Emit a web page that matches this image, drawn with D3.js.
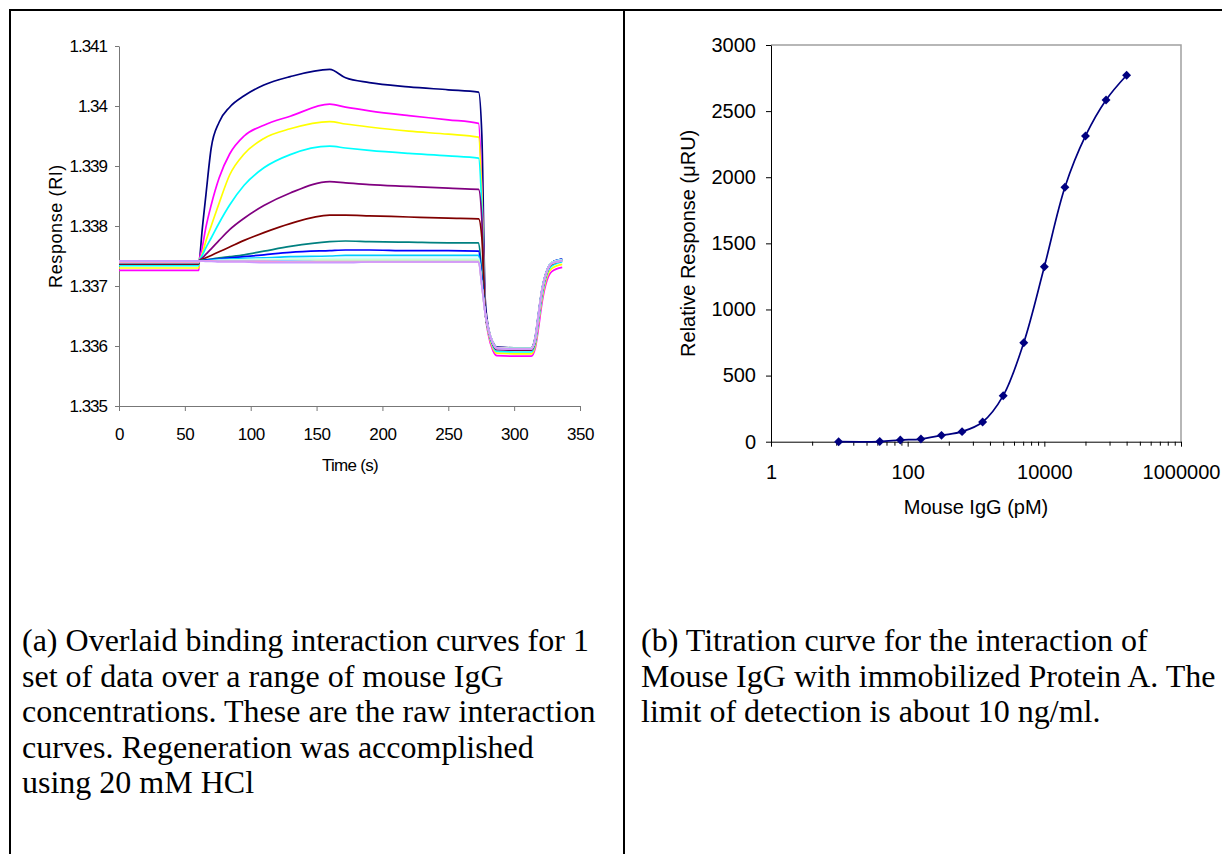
<!DOCTYPE html>
<html>
<head>
<meta charset="utf-8">
<script src="https://cdn.jsdelivr.net/npm/d3@7"></script>
<style>
  html, body { margin: 0; padding: 0; background: #fff; }
  svg { display: block; }
</style>
</head>
<body>
<script>
// ---- (a) binding curves: time points shared by every series ----
const times = [0, 60.5, 61, 63, 66, 70, 76, 84, 95, 110, 130, 160, 172, 190, 220, 250, 273,
  275.5, 278, 280.5, 284, 287, 300, 313, 316, 318.5, 321, 325, 328.5, 336.5];

const navy = [1.33737, 1.33737, 1.33742, 1.33790, 1.33852, 1.33930, 1.33973, 1.33998, 1.34017, 1.34035, 1.34049, 1.34061, 1.34047, 1.34039, 1.34032, 1.34027, 1.34023,
  1.33950, 1.33680, 1.33630, 1.33606, 1.33598, 1.33597, 1.33597, 1.33615, 1.33655, 1.33693, 1.33727, 1.33739, 1.33745];
const magenta = [1.33726, 1.33726, 1.33742, 1.33762, 1.33798, 1.33835, 1.33880, 1.33920, 1.33950, 1.33968, 1.33983, 1.34003, 1.33998, 1.33992, 1.33984, 1.33977, 1.33971,
  1.33860, 1.33660, 1.33618, 1.33592, 1.33584, 1.33583, 1.33583, 1.33596, 1.33630, 1.33670, 1.33710, 1.33724, 1.33731];
const yellow = [1.33730, 1.33730, 1.33742, 1.33752, 1.33775, 1.33800, 1.33838, 1.33885, 1.33920, 1.33946, 1.33962, 1.33974, 1.33970, 1.33965, 1.33958, 1.33953, 1.33948,
  1.33850, 1.33658, 1.33622, 1.33596, 1.33588, 1.33587, 1.33587, 1.33600, 1.33638, 1.33676, 1.33716, 1.33729, 1.33736];
const cyan = [1.33734, 1.33734, 1.33742, 1.33750, 1.33764, 1.33780, 1.33805, 1.33835, 1.33868, 1.33897, 1.33919, 1.33933, 1.33930, 1.33926, 1.33921, 1.33917, 1.33913,
  1.33830, 1.33657, 1.33624, 1.33599, 1.33591, 1.33590, 1.33590, 1.33604, 1.33642, 1.33681, 1.33720, 1.33733, 1.33740];
const purple = [1.33737, 1.33737, 1.33742, 1.33746, 1.33753, 1.33762, 1.33776, 1.33794, 1.33813, 1.33834, 1.33855, 1.33874, 1.33872, 1.33869, 1.33866, 1.33863, 1.33861,
  1.33810, 1.33656, 1.33626, 1.33602, 1.33594, 1.33593, 1.33593, 1.33608, 1.33648, 1.33687, 1.33723, 1.33736, 1.33742];
const maroon = [1.33737, 1.33737, 1.33742, 1.33744, 1.33747, 1.33751, 1.33757, 1.33765, 1.33776, 1.33789, 1.33804, 1.33818, 1.33818, 1.33817, 1.33815, 1.33813, 1.33812,
  1.33780, 1.33655, 1.33627, 1.33603, 1.33595, 1.33594, 1.33594, 1.33610, 1.33650, 1.33689, 1.33724, 1.33737, 1.33743];
const teal = [1.33738, 1.33738, 1.33742, 1.33743, 1.33744, 1.33745, 1.33747, 1.33749, 1.33752, 1.33758, 1.33766, 1.33774, 1.33775, 1.33774, 1.33773, 1.33772, 1.33772,
  1.33720, 1.33655, 1.33627, 1.33604, 1.33596, 1.33595, 1.33595, 1.33611, 1.33651, 1.33690, 1.33725, 1.33738, 1.33744];
const blue = [1.33740, 1.33740, 1.33742, 1.33742, 1.33743, 1.33744, 1.33745, 1.33747, 1.33749, 1.33752, 1.33756, 1.33759, 1.33760, 1.33760, 1.33759, 1.33759, 1.33758,
  1.33710, 1.33655, 1.33628, 1.33604, 1.33596, 1.33595, 1.33595, 1.33612, 1.33652, 1.33691, 1.33726, 1.33739, 1.33745];
const skyBlue = [1.33741, 1.33741, 1.33742, 1.33742, 1.33742, 1.33743, 1.33744, 1.33745, 1.33746, 1.33747, 1.33749, 1.33750, 1.33751, 1.33751, 1.33751, 1.33751, 1.33751,
  1.33705, 1.33655, 1.33628, 1.33605, 1.33597, 1.33596, 1.33596, 1.33612, 1.33652, 1.33691, 1.33726, 1.33739, 1.33744];
const paleCyan = [1.33742, 1.33742, 1.33742, 1.33742, 1.33742, 1.33742, 1.33743, 1.33743, 1.33744, 1.33745, 1.33745, 1.33746, 1.33746, 1.33746, 1.33746, 1.33746, 1.33746,
  1.33700, 1.33655, 1.33628, 1.33605, 1.33597, 1.33596, 1.33596, 1.33612, 1.33652, 1.33691, 1.33726, 1.33739, 1.33744];
const paleGreen = [1.33741, 1.33741, 1.33742, 1.33742, 1.33742, 1.33742, 1.33742, 1.33743, 1.33743, 1.33743, 1.33744, 1.33744, 1.33744, 1.33744, 1.33744, 1.33744, 1.33744,
  1.33700, 1.33655, 1.33628, 1.33605, 1.33597, 1.33596, 1.33596, 1.33612, 1.33652, 1.33691, 1.33726, 1.33739, 1.33743];
const paleYellow = [1.33740, 1.33740, 1.33742, 1.33742, 1.33742, 1.33742, 1.33742, 1.33742, 1.33742, 1.33742, 1.33742, 1.33742, 1.33742, 1.33742, 1.33742, 1.33742, 1.33742,
  1.33700, 1.33655, 1.33627, 1.33604, 1.33596, 1.33595, 1.33595, 1.33610, 1.33650, 1.33689, 1.33724, 1.33737, 1.33742];
const paleBlue = [1.33741, 1.33741, 1.33742, 1.33742, 1.33742, 1.33742, 1.33742, 1.33742, 1.33742, 1.33742, 1.33742, 1.33741, 1.33741, 1.33741, 1.33741, 1.33741, 1.33741,
  1.33700, 1.33655, 1.33627, 1.33604, 1.33596, 1.33595, 1.33595, 1.33611, 1.33651, 1.33690, 1.33725, 1.33738, 1.33743];
const pink = [1.33739, 1.33739, 1.33742, 1.33742, 1.33742, 1.33742, 1.33741, 1.33741, 1.33741, 1.33741, 1.33740, 1.33740, 1.33740, 1.33740, 1.33740, 1.33740, 1.33740,
  1.33700, 1.33655, 1.33627, 1.33604, 1.33596, 1.33595, 1.33595, 1.33611, 1.33651, 1.33690, 1.33725, 1.33738, 1.33742];
const lavender = [1.33742, 1.33742, 1.33742, 1.33742, 1.33741, 1.33741, 1.33740, 1.33740, 1.33740, 1.33739, 1.33739, 1.33739, 1.33739, 1.33740, 1.33740, 1.33740, 1.33740,
  1.33700, 1.33655, 1.33627, 1.33604, 1.33596, 1.33595, 1.33595, 1.33611, 1.33651, 1.33690, 1.33725, 1.33738, 1.33742];

const seriesA = [navy, magenta, yellow, cyan, purple, maroon, teal, blue, skyBlue, paleCyan, paleGreen, paleYellow, paleBlue, pink, lavender];
const colorsA = ["#000080", "#ff00ff", "#ffff00", "#00ffff", "#800080", "#800000", "#008080", "#0000ff",
  "#00ccff", "#ccffff", "#ccffcc", "#ffff99", "#99ccff", "#ff99cc", "#cc99ff"];

const timeTicks = [0, 50, 100, 150, 200, 250, 300, 350];
const riTicks = [1.335, 1.336, 1.337, 1.338, 1.339, 1.340, 1.341];
const riLabels = ["1.335", "1.336", "1.337", "1.338", "1.339", "1.34", "1.341"];

// ---- (b) titration curve ----
const concPM = [9.77, 39.06, 78.13, 156.25, 312.5, 625, 1250, 2500, 5000, 10000, 20000, 40000, 80000, 160000];
const responseURU = [0, 1, 13, 20, 48, 76, 149, 348, 749, 1323, 1924, 2312, 2584, 2771];
const concMajor = [1, 100, 10000, 1000000];
const concMinor = [4, 9, 16, 25, 36, 49, 64, 81, 400, 900, 1600, 2500, 3600, 4900, 6400, 8100,
  40000, 90000, 160000, 250000, 360000, 490000, 640000, 810000];
const respTicks = [0, 500, 1000, 1500, 2000, 2500, 3000];

const captionA = ["(a) Overlaid binding interaction curves for 1", "set of data over a range of mouse IgG",
  "concentrations. These are the raw interaction", "curves. Regeneration was accomplished", "using 20 mM HCl"];
const captionB = ["(b) Titration curve for the interaction of", "Mouse IgG with immobilized Protein A. The",
  "limit of detection is about 10 ng/ml."];

const svg = d3.select("body").append("svg")
  .attr("width", 1222)
  .attr("height", 854)
  .style("font-family", "'Liberation Sans', Arial, sans-serif");

svg.append("rect").attr("width", 1222).attr("height", 854).attr("fill", "#fff");

// table borders
svg.append("line").attr("x1", 9).attr("x2", 1222).attr("y1", 10).attr("y2", 10).attr("stroke", "#000").attr("stroke-width", 2);
svg.append("line").attr("x1", 10).attr("x2", 10).attr("y1", 9).attr("y2", 854).attr("stroke", "#000").attr("stroke-width", 2);
svg.append("line").attr("x1", 624).attr("x2", 624).attr("y1", 9).attr("y2", 854).attr("stroke", "#000").attr("stroke-width", 2);

// ===== chart (a) =====
const xA = d3.scaleLinear().domain([0, 350]).range([119, 580]);
const yA = d3.scaleLinear().domain([1.335, 1.341]).range([406, 46]);

const axisColor = "#777";

const gxA = svg.append("g").attr("transform", "translate(0,406)")
  .call(d3.axisBottom(xA).tickValues(timeTicks).tickSize(5).tickSizeOuter(0).tickPadding(17));
gxA.select(".domain").attr("stroke", axisColor);
gxA.selectAll(".tick line").attr("stroke", axisColor);
gxA.selectAll("text").attr("fill", "#000").style("font-size", "17px").style("letter-spacing", "-0.4px");

const gyA = svg.append("g").attr("transform", "translate(119,0)")
  .call(d3.axisLeft(yA).tickValues(riTicks).tickFormat((d, i) => riLabels[i]).tickSize(4).tickSizeOuter(0).tickPadding(8));
gyA.select(".domain").attr("stroke", axisColor);
gyA.selectAll(".tick line").attr("stroke", axisColor);
gyA.selectAll("text").attr("fill", "#000").style("font-size", "17px").style("letter-spacing", "-1px");

svg.append("text")
  .attr("x", 350).attr("y", 471)
  .attr("text-anchor", "middle")
  .style("font-size", "17px").style("letter-spacing", "-0.7px")
  .text("Time (s)");

svg.append("text")
  .attr("transform", "translate(62,226) rotate(-90)")
  .attr("text-anchor", "middle")
  .style("font-size", "18px").style("letter-spacing", "0.6px")
  .text("Response (RI)");

const lineA = d3.line()
  .x((d, i) => xA(times[i]))
  .y(d => yA(d))
  .curve(d3.curveMonotoneX);

svg.append("g")
  .selectAll("path")
  .data(seriesA)
  .enter()
  .append("path")
  .attr("d", d => lineA(d))
  .attr("fill", "none")
  .attr("stroke", (d, i) => colorsA[i])
  .attr("stroke-width", 1.7)
  .attr("stroke-linejoin", "round");

// ===== chart (b) =====
const xB = d3.scaleLog().domain([1, 1000000]).range([771, 1181]);
const yB = d3.scaleLinear().domain([0, 3000]).range([441.7, 45]);

// plot-area frame (top and right)
svg.append("path")
  .attr("d", `M${xB(1)},${yB(3000)}H${xB(1000000)}V${yB(0)}`)
  .attr("fill", "none")
  .attr("stroke", "#a0a0a0")
  .attr("stroke-width", 1.5);

const gMinor = svg.append("g").attr("transform", `translate(0,${yB(0)})`)
  .call(d3.axisBottom(xB).tickValues(concMinor).tickSize(4).tickFormat(""));
gMinor.select(".domain").remove();

const gxB = svg.append("g").attr("transform", `translate(0,${yB(0)})`)
  .call(d3.axisBottom(xB).tickValues(concMajor).tickFormat(d3.format("d")).tickSize(5).tickSizeOuter(0).tickPadding(18));
gxB.selectAll("text").attr("fill", "#000").style("font-size", "20px");

const gyB = svg.append("g").attr("transform", `translate(${xB(1)},0)`)
  .call(d3.axisLeft(yB).tickValues(respTicks).tickFormat(d3.format("d")).tickSize(5).tickSizeOuter(0).tickPadding(10));
gyB.selectAll("text").attr("fill", "#000").style("font-size", "20px");

svg.append("text")
  .attr("x", 976).attr("y", 514)
  .attr("text-anchor", "middle")
  .style("font-size", "20px")
  .text("Mouse IgG (pM)");

svg.append("text")
  .attr("transform", `translate(695,${(yB(0) + yB(3000)) / 2}) rotate(-90)`)
  .attr("text-anchor", "middle")
  .style("font-size", "20px")
  .text("Relative Response (\u03BCRU)");

const lineB = d3.line()
  .x((d, i) => xB(concPM[i]))
  .y(d => yB(d))
  .curve(d3.curveCatmullRom.alpha(0.5));

svg.append("path")
  .attr("d", lineB(responseURU))
  .attr("fill", "none")
  .attr("stroke", "#000080")
  .attr("stroke-width", 1.7);

svg.append("g")
  .selectAll("path")
  .data(responseURU)
  .enter()
  .append("path")
  .attr("d", d3.symbol().type(d3.symbolSquare).size(40))
  .attr("transform", (d, i) => `translate(${xB(concPM[i])},${yB(d)}) rotate(45)`)
  .attr("fill", "#000080");

// ===== captions =====
const captions = svg.append("g")
  .style("font-family", "'Liberation Serif', 'Times New Roman', serif")
  .style("font-size", "32px")
  .attr("fill", "#000");

captions.selectAll("text.capA")
  .data(captionA)
  .enter()
  .append("text")
  .attr("class", "capA")
  .attr("x", 22)
  .attr("y", (d, i) => 651 + i * 35.5)
  .text(d => d);

captions.selectAll("text.capB")
  .data(captionB)
  .enter()
  .append("text")
  .attr("class", "capB")
  .attr("x", 641)
  .attr("y", (d, i) => 651 + i * 35.5)
  .text(d => d);
</script>
</body>
</html>
